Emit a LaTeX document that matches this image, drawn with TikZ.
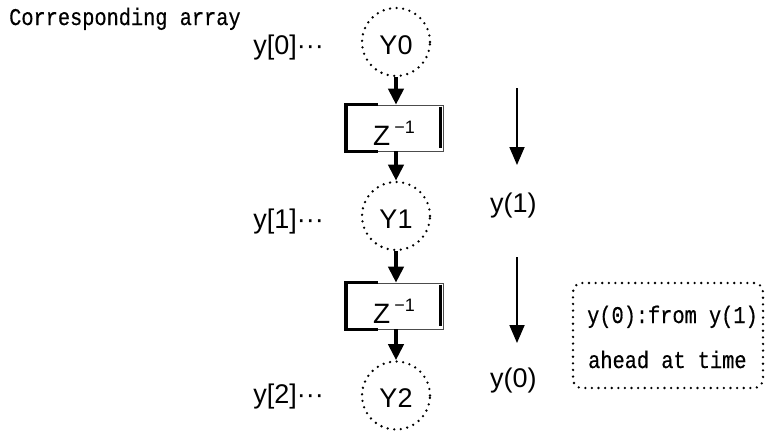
\documentclass[tikz,border=0pt]{standalone}
\usepackage{graphicx}
\usepackage{fontspec}
\setmainfont{Liberation Sans}
\newfontfamily\lmono[FakeBold=0.6]{Liberation Mono}
\newcommand{\talltext}[1]{\scalebox{1}[1.18]{#1}}
\usetikzlibrary{arrows.meta}
\begin{document}
\begin{tikzpicture}[x=1pt,y=-1pt,
  dotline/.style={line width=2.6pt, line cap=round, dash pattern=on 0pt off 6.6pt},
  ycirc/.style={circle, draw, dotline, minimum size=68pt, inner sep=0pt, font=\fontsize{27}{30}\selectfont},
  zbox/.style={draw=black!70, line width=0.6pt, minimum width=98pt, minimum height=46pt, inner sep=0pt, font=\fontsize{28}{30}\selectfont},
  bracket/.style={line width=3.5pt},
  bigarrow/.style={line width=4.2pt, -{Triangle[length=16pt,width=15pt]}},
  thinarrow/.style={line width=1.8pt, -{Triangle[length=18pt,width=15pt]}},
  lab/.style={font=\fontsize{27}{30}\selectfont, inner sep=0pt},
  mono/.style={font=\lmono\fontsize{20.3}{24}\selectfont, inner sep=0pt},
  notebox/.style={draw, dotline, rounded corners=9pt, minimum width=190pt, minimum height=105pt}
]
\useasboundingbox (0,0) rectangle (765,434);

\node[mono, anchor=base west] (title) at (9,25) {\talltext{Corresponding array}};

% circles
\node[ycirc] (y0) at (396,42) {\raisebox{0pt}[24pt][0pt]{Y0}};
\node[ycirc] (y1) at (396,216) {\raisebox{0pt}[24pt][0pt]{Y1}};
\node[ycirc] (y2) at (396,395.5) {\raisebox{0pt}[24pt][0pt]{Y2}};

% delay boxes
\node[zbox] (z1) at (394,128) {\raisebox{0pt}[34pt][0pt]{Z\hspace{4pt}\raisebox{12pt}{\fontsize{18}{18}\selectfont −1}}};
\node[zbox] (z2) at (394,306) {\raisebox{0pt}[34pt][0pt]{Z\hspace{4pt}\raisebox{12pt}{\fontsize{18}{18}\selectfont −1}}};

\foreach \z in {z1,z2}{
  \draw[bracket] ([xshift=33pt]\z.north west) -- ([xshift=1.5pt]\z.north west) -- ([xshift=1.5pt]\z.south west) -- ([xshift=33pt]\z.south west);
  \draw[bracket] ([xshift=-3pt,yshift=-2pt]\z.north east) -- ([xshift=-3pt,yshift=3pt]\z.south east);
}

% thick arrows
\draw[bigarrow] (y0.south) -- (y0.south |- z1.north);
\draw[bigarrow] (y1.north |- z1.south) -- (y1.north);
\draw[bigarrow] (y1.south) -- (y1.south |- z2.north);
\draw[bigarrow] (y2.north |- z2.south) -- (y2.north);

% left labels
\node[lab, anchor=base east] (l0) at (324,54) {y[0]···};
\node[lab, anchor=base east] (l1) at (324,228) {y[1]···};
\node[lab, anchor=base east] (l2) at (324,403) {y[2]···};

% right labels and thin arrows
\coordinate (a1s) at (517,88);
\coordinate (a1e) at (517,165);
\coordinate (a2s) at (517,257);
\coordinate (a2e) at (517,343);
\draw[thinarrow] (a1s) -- (a1e);
\draw[thinarrow] (a2s) -- (a2e);
\node[lab, anchor=base west] (r1) at (490,212) {y(1)};
\node[lab, anchor=base west] (r0) at (490,387) {y(0)};

% note box
\node[notebox] (note) at (668,335.5) {};
\node[mono, anchor=base west] (n1) at (587,323) {\talltext{y(0):from y(1)}};
\node[mono, anchor=base west] (n2) at (588,368) {\talltext{ahead at time}};
\end{tikzpicture}
\end{document}
